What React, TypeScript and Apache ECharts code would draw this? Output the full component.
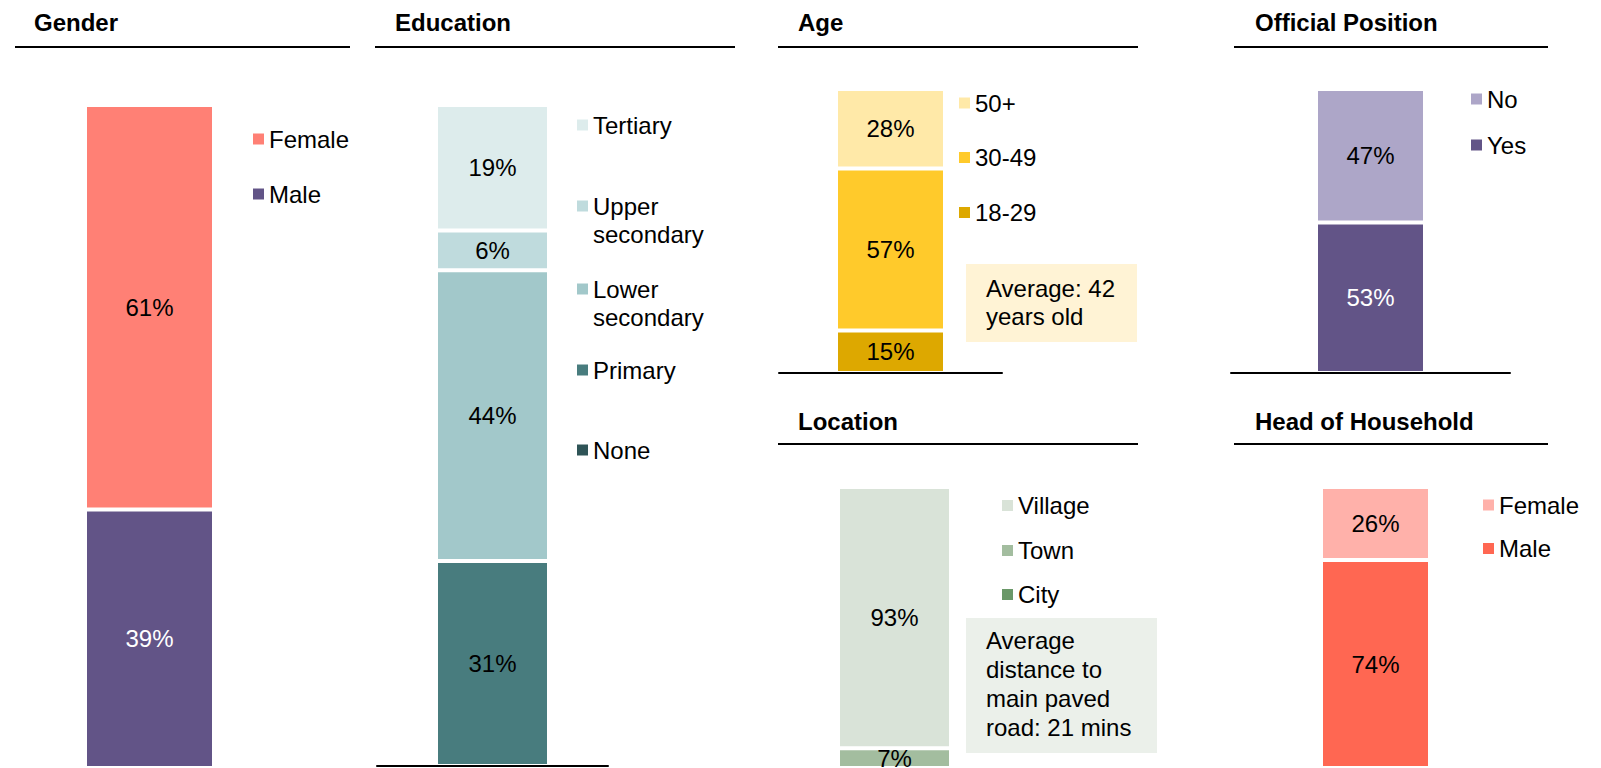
import React, { useEffect, useRef } from 'react';
import * as echarts from 'echarts';

const FONT = '"Liberation Sans", Arial, Helvetica, sans-serif';

// ---- Data (bottom segment first) ----
const genderCats = ['Male', 'Female'];
const genderValues = [39, 61];
const educationCats = ['None', 'Primary', 'Lower secondary', 'Upper secondary', 'Tertiary'];
const educationValues = [0, 31, 44, 6, 19];
const ageCats = ['18-29', '30-49', '50+'];
const ageValues = [15, 57, 28];
const positionCats = ['Yes', 'No'];
const positionValues = [53, 47];
const locationCats = ['City', 'Town', 'Village'];
const locationValues = [0, 7, 93];
const headCats = ['Male', 'Female'];
const headValues = [74, 26];

const titles = ['Gender', 'Education', 'Age', 'Official Position', 'Location', 'Head of Household'];
const ageNote = 'Average: 42\nyears old';
const locationNote = 'Average\ndistance to\nmain paved\nroad: 21 mins';

// ---- Styling / layout ----
const panels = [
  {
    key: 'gender', title: titles[0], cats: genderCats, values: genderValues,
    colors: ['#625487', '#FF8075'], labelColors: ['#ffffff', '#000000'],
    grid: { left: 30, width: 239, top: 105, height: 666 }, barWidth: 129, baseline: false,
    titleX: 34, titleY: 10, rule: [15, 350, 47],
    legendX: 253, legendCenters: [141, 196],
  },
  {
    key: 'education', title: titles[1], cats: educationCats, values: educationValues,
    colors: ['#2F5457', '#487C7E', '#A2C8CA', '#BFDBDD', '#DDECEC'],
    labelColors: ['#000000', '#000000', '#000000', '#000000', '#000000'],
    grid: { left: 377, width: 231, top: 105, height: 661 }, barWidth: 113, baseline: true,
    titleX: 395, titleY: 10, rule: [375, 735, 47],
    legendX: 577, legendCenters: [127, 208, 291, 372, 452],
  },
  {
    key: 'age', title: titles[2], cats: ageCats, values: ageValues,
    colors: ['#DDA800', '#FFCA2B', '#FFE9A8'], labelColors: ['#000000', '#000000', '#000000'],
    grid: { left: 779, width: 223, top: 89, height: 284 }, barWidth: 109, baseline: true,
    titleX: 798, titleY: 10, rule: [778, 1138, 47],
    legendX: 959, legendCenters: [105, 159.5, 214.5],
  },
  {
    key: 'position', title: titles[3], cats: positionCats, values: positionValues,
    colors: ['#625487', '#ADA6C8'], labelColors: ['#ffffff', '#000000'],
    grid: { left: 1231, width: 279, top: 89, height: 284 }, barWidth: 109, baseline: true,
    titleX: 1255, titleY: 10, rule: [1234, 1548, 47],
    legendX: 1471, legendCenters: [101, 147],
  },
  {
    key: 'location', title: titles[4], cats: locationCats, values: locationValues,
    colors: ['#6A9868', '#A3BD9F', '#D9E3D8'], labelColors: ['#000000', '#000000', '#000000'],
    grid: { left: 779, width: 231, top: 487, height: 284 }, barWidth: 113, baseline: false,
    titleX: 798, titleY: 409, rule: [778, 1138, 444],
    legendX: 1002, legendCenters: [507.5, 552.5, 596.5],
  },
  {
    key: 'head', title: titles[5], cats: headCats, values: headValues,
    colors: ['#FF6752', '#FFB1AA'], labelColors: ['#000000', '#000000'],
    grid: { left: 1231, width: 289, top: 487, height: 284 }, barWidth: 109, baseline: false,
    titleX: 1255, titleY: 409, rule: [1234, 1548, 444],
    legendX: 1483, legendCenters: [507, 550.5],
  },
];

function buildOption() {
  const grid: any[] = [];
  const xAxis: any[] = [];
  const yAxis: any[] = [];
  const series: any[] = [];
  const legend: any[] = [];
  const title: any[] = [];
  const graphic: any[] = [];

  panels.forEach((p, i) => {
    grid.push({ ...p.grid, containLabel: false });
    xAxis.push({
      type: 'category', gridIndex: i, data: [''], z: 5,
      axisLine: { show: p.baseline, lineStyle: { color: '#000', width: 2 } },
      axisTick: { show: false }, axisLabel: { show: false }, splitLine: { show: false },
    });
    yAxis.push({ type: 'value', gridIndex: i, min: 0, max: 100, show: false, splitLine: { show: false } });

    p.cats.forEach((c, j) => {
      series.push({
        type: 'bar', name: c, xAxisIndex: i, yAxisIndex: i, stack: p.key,
        barWidth: p.barWidth, data: [p.values[j]],
        itemStyle: { color: p.colors[j], borderColor: '#ffffff', borderWidth: 2 },
        label: {
          show: true, position: 'inside', fontSize: 24, fontFamily: FONT,
          color: p.labelColors[j],
          formatter: (prm: any) => (prm.value ? prm.value + '%' : ''),
        },
        emphasis: { disabled: true },
      });
    });

    // legend items, top to bottom
    const order = p.cats.map((_, j) => j).reverse();
    order.forEach((j, k) => {
      const name = p.cats[j];
      const multi = name.indexOf(' ') >= 0;
      legend.push({
        show: true, selectedMode: false, orient: 'vertical', padding: 0,
        left: p.legendX, top: p.legendCenters[k] - (multi ? 42 : 12) - 2,
        itemWidth: 11, itemHeight: 11, itemGap: 0, icon: 'rect',
        itemStyle: { borderWidth: 0 },
        textStyle: {
          fontSize: 24, fontFamily: FONT, color: '#000',
          lineHeight: multi ? 28 : 24,
        },
        formatter: (n: string) => (n.indexOf(' ') >= 0 ? '\n' + n.replace(' ', '\n') : n),
        data: [{ name, icon: 'rect', itemStyle: { color: p.colors[j], borderWidth: 0 } }],
      });
    });

    title.push({
      text: p.title, left: p.titleX, top: p.titleY, padding: 0,
      textStyle: { fontSize: 24, fontWeight: 'bold', color: '#000', fontFamily: FONT },
    });

    graphic.push({
      type: 'line', silent: true,
      shape: { x1: p.rule[0], y1: p.rule[2], x2: p.rule[1], y2: p.rule[2] },
      style: { stroke: '#000', lineWidth: 2 },
    });
  });

  graphic.push({
    type: 'group', silent: true,
    children: [
      { type: 'rect', shape: { x: 966, y: 264, width: 171, height: 78 }, style: { fill: '#FFF3D5' } },
      {
        type: 'text', x: 986, y: 274,
        style: { text: ageNote, fontSize: 24, fontFamily: FONT, lineHeight: 28, fill: '#000', verticalAlign: 'top' },
      },
    ],
  });
  graphic.push({
    type: 'group', silent: true,
    children: [
      { type: 'rect', shape: { x: 966, y: 618, width: 191, height: 135 }, style: { fill: '#EBF0EA' } },
      {
        type: 'text', x: 986, y: 626,
        style: { text: locationNote, fontSize: 24, fontFamily: FONT, lineHeight: 29, fill: '#000', verticalAlign: 'top' },
      },
    ],
  });

  return {
    animation: false,
    backgroundColor: '#ffffff',
    textStyle: { fontFamily: FONT },
    tooltip: { show: false },
    title, legend, grid, xAxis, yAxis, series, graphic,
  };
}

export default function App() {
  const ref = useRef<HTMLDivElement>(null);
  useEffect(() => {
    document.body.style.margin = '0';
    document.body.style.overflow = 'hidden';
    if (!ref.current) return;
    const chart = echarts.init(ref.current, undefined, { renderer: 'svg' });
    chart.setOption(buildOption() as any);
    return () => chart.dispose();
  }, []);
  return (
    <div
      ref={ref}
      style={{ position: 'relative', width: 1601, height: 768, background: '#fff' }}
    />
  );
}
